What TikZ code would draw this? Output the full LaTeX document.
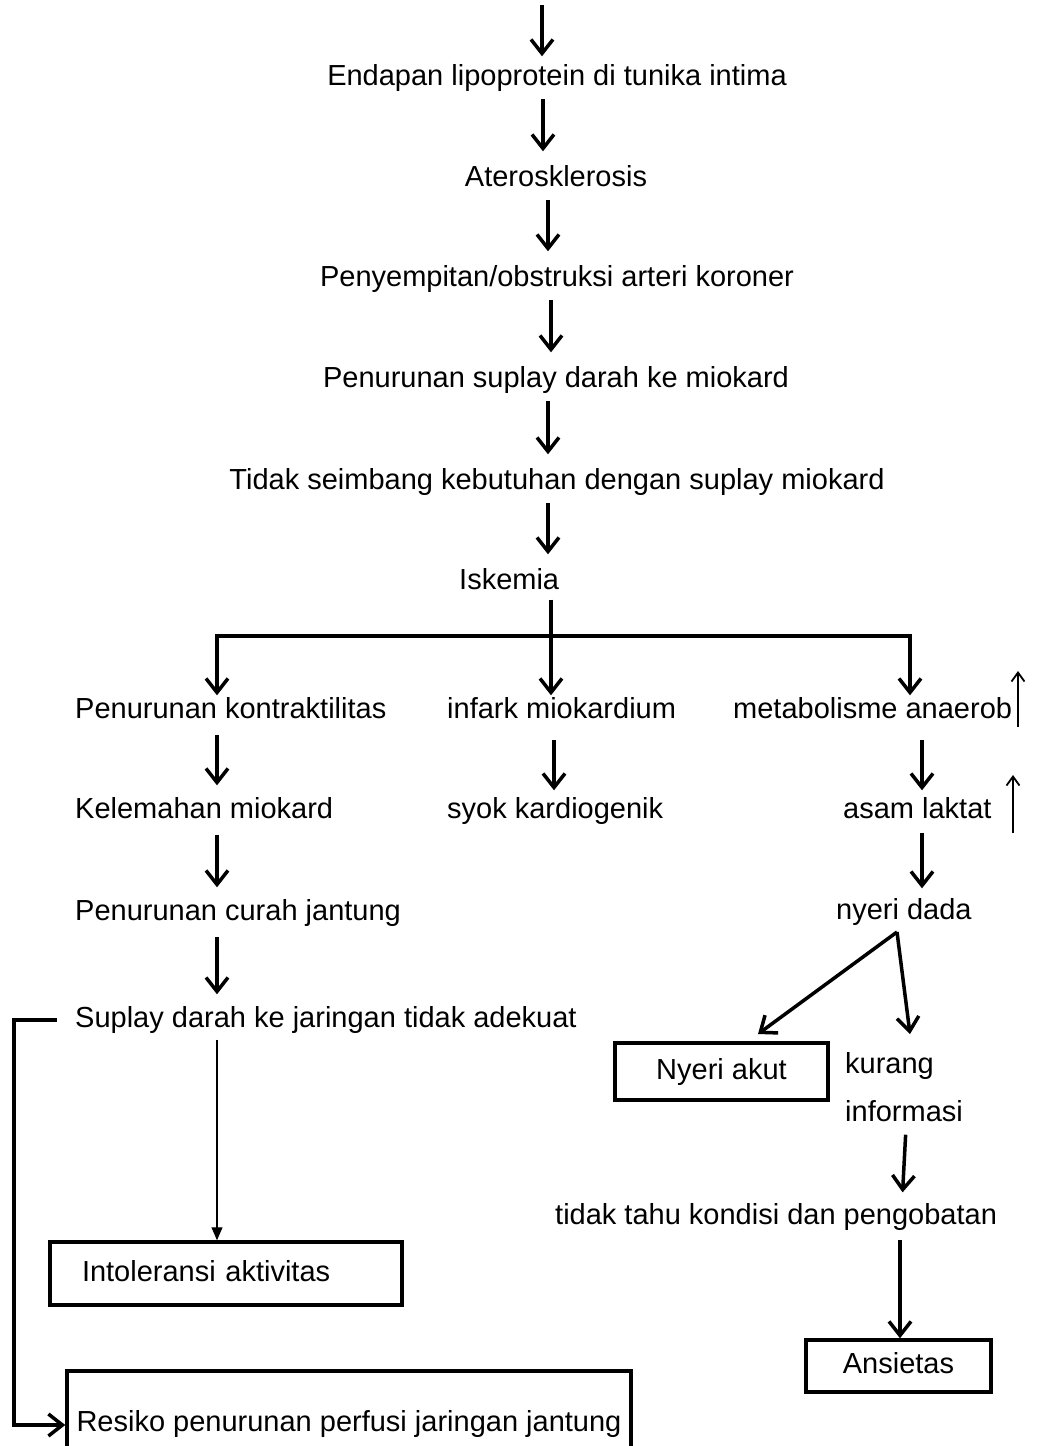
\documentclass[tikz,border=0pt]{standalone}
\usepackage{fontspec}
\setmainfont{Liberation Sans}
\usetikzlibrary{arrows.meta}
\begin{document}
\begin{tikzpicture}[x=1pt,y=-1pt,
  txt/.style={inner sep=0pt, text height=21pt, text depth=6pt, font=\fontsize{29}{34}\selectfont},
  box/.style={txt, draw, line width=3.5pt},
  arr/.style={line width=3.5pt, -{Straight Barb[length=14pt,width=22pt]}},
  link/.style={line width=3.5pt},
  thinarr/.style={line width=1.2pt, -{Triangle[length=13pt,width=11pt]}},
  uparr/.style={line width=1.8pt, -{Straight Barb[length=9pt,width=13pt]}},
  ch/.style={arr, shorten <=7pt, shorten >=14pt}]
\useasboundingbox (0,0) rectangle (1037,1446);

% main chain
\node[txt] (endapan) at (557,78) {Endapan lipoprotein di tunika intima};
\node[txt] (ater) at (556,179) {Aterosklerosis};
\node[txt] (peny) at (557,279) {Penyempitan/obstruksi arteri koroner};
\node[txt] (penur) at (556,380) {Penurunan suplay darah ke miokard};
\node[txt] (tidak) at (557,482) {Tidak seimbang kebutuhan dengan suplay miokard};
\node[txt,anchor=west] (iskemia) at (459,582) {Iskemia};

% three columns
\node[txt,anchor=west] (kontr) at (75,711) {Penurunan kontraktilitas};
\node[txt,anchor=west] (infark) at (447,711) {infark miokardium};
\node[txt,anchor=west] (metab) at (733,711) {metabolisme anaerob};
\node[txt,anchor=west] (kelem) at (75,811) {Kelemahan miokard};
\node[txt,anchor=west] (syok) at (447,811) {syok kardiogenik};
\node[txt,anchor=west] (asam) at (843,811) {asam laktat};
\node[txt,anchor=west] (curah) at (75,913) {Penurunan curah jantung};
\node[txt,anchor=west] (nyeri) at (836,912) {nyeri dada};
\node[txt,anchor=west] (suplay) at (75,1020) {Suplay darah ke jaringan tidak adekuat};

% right lower part
\node[box, minimum width=213pt, minimum height=57pt] (akut) at (721.5,1071.5) {Nyeri akut};
\node[txt,anchor=west] (kurang) at (845,1066) {kurang};
\node[txt,anchor=west] (info) at (845,1114) {informasi};
\node[txt,anchor=west] (tahu) at (555,1217) {tidak tahu kondisi dan pengobatan};
\node[box, minimum width=185pt, minimum height=52pt] (ansietas) at (898.5,1366) {Ansietas};

% left lower boxes
\node[box, inner xsep=32pt, text width=288pt, align=left, minimum height=63pt] (intol) at (226,1273.5) {Intoleransi aktivitas};
\node[box, minimum width=564pt, minimum height=106pt] (resiko) at (349,1424) {Resiko penurunan perfusi jaringan jantung};

% column coordinates
\coordinate (top) at (542,5);
\coordinate (c0) at (542,0);
\coordinate (c1) at (543,0);
\coordinate (c2) at (548,0);
\coordinate (c3) at (551,0);
\coordinate (c4) at (548,0);
\coordinate (c5) at (548,0);
\coordinate (cm) at (551,0);
\coordinate (hl) at (217,636);
\coordinate (hr) at (910,636);
\coordinate (cl) at (217,0);
\coordinate (ci) at (554,0);
\coordinate (cr) at (922,0);
\coordinate (up1a) at (1018,727);
\coordinate (up1b) at (1018,671);
\coordinate (up2a) at (1013,833);
\coordinate (up2b) at (1013,775);
\coordinate (nd) at (897,932);
\coordinate (ndl) at (758,1034);
\coordinate (ndr) at (910,1034);
\coordinate (inf) at (906,0);
\coordinate (thd) at (902,0);
\coordinate (ca) at (900,0);
\coordinate (cs) at (217,0);

% connectors
\draw[arr, shorten >=8pt] (top) -- (endapan.north -| c0);
\draw[ch] (endapan.south -| c1) -- (ater.north -| c1);
\draw[ch] (ater.south -| c2) -- (peny.north -| c2);
\draw[ch] (peny.south -| c3) -- (penur.north -| c3);
\draw[ch] (penur.south -| c4) -- (tidak.north -| c4);
\draw[ch] (tidak.south -| c5) -- (iskemia.north -| c5);

\draw[arr, shorten <=4pt, shorten >=2pt] (iskemia.south -| cm) -- (infark.north -| cm);
\draw[link] ([xshift=-1.75pt]hl) -- ([xshift=1.75pt]hr);
\draw[arr, shorten >=2pt] (hl) -- (kontr.north -| hl);
\draw[arr, shorten >=2pt] (hr) -- (metab.north -| hr);

\draw[arr, shorten <=10pt, shorten >=12pt] (kontr.south -| cl) -- (kelem.north -| cl);
\draw[arr, shorten <=10pt, shorten >=12pt] (kelem.south -| cl) -- (curah.north -| cl);
\draw[arr, shorten <=10pt, shorten >=12pt] (curah.south -| cl) -- (suplay.north -| cl);
\draw[arr, shorten <=15pt, shorten >=7pt] (infark.south -| ci) -- (syok.north -| ci);
\draw[arr, shorten <=15pt, shorten >=7pt] (metab.south -| cr) -- (asam.north -| cr);
\draw[arr, shorten <=8pt, shorten >=10pt] (asam.south -| cr) -- (nyeri.north -| cr);

\draw[uparr] (up1a) -- (up1b);
\draw[uparr] (up2a) -- (up2b);

\draw[arr] (nd) -- (ndl);
\draw[arr] (nd) -- (ndr);
\draw[arr, shorten <=7pt, shorten >=11pt] (info.south -| inf) -- (tahu.north -| thd);
\draw[arr, shorten <=9pt] (tahu.south -| ca) -- (ansietas.north -| ca);

\draw[thinarr, shorten <=6pt] (suplay.south -| cs) -- (intol.north -| cs);
\draw[arr, shorten <=18pt] (suplay.west) -- ++(-61,0) |- ([yshift=-1pt]resiko.west);
\end{tikzpicture}
\end{document}
